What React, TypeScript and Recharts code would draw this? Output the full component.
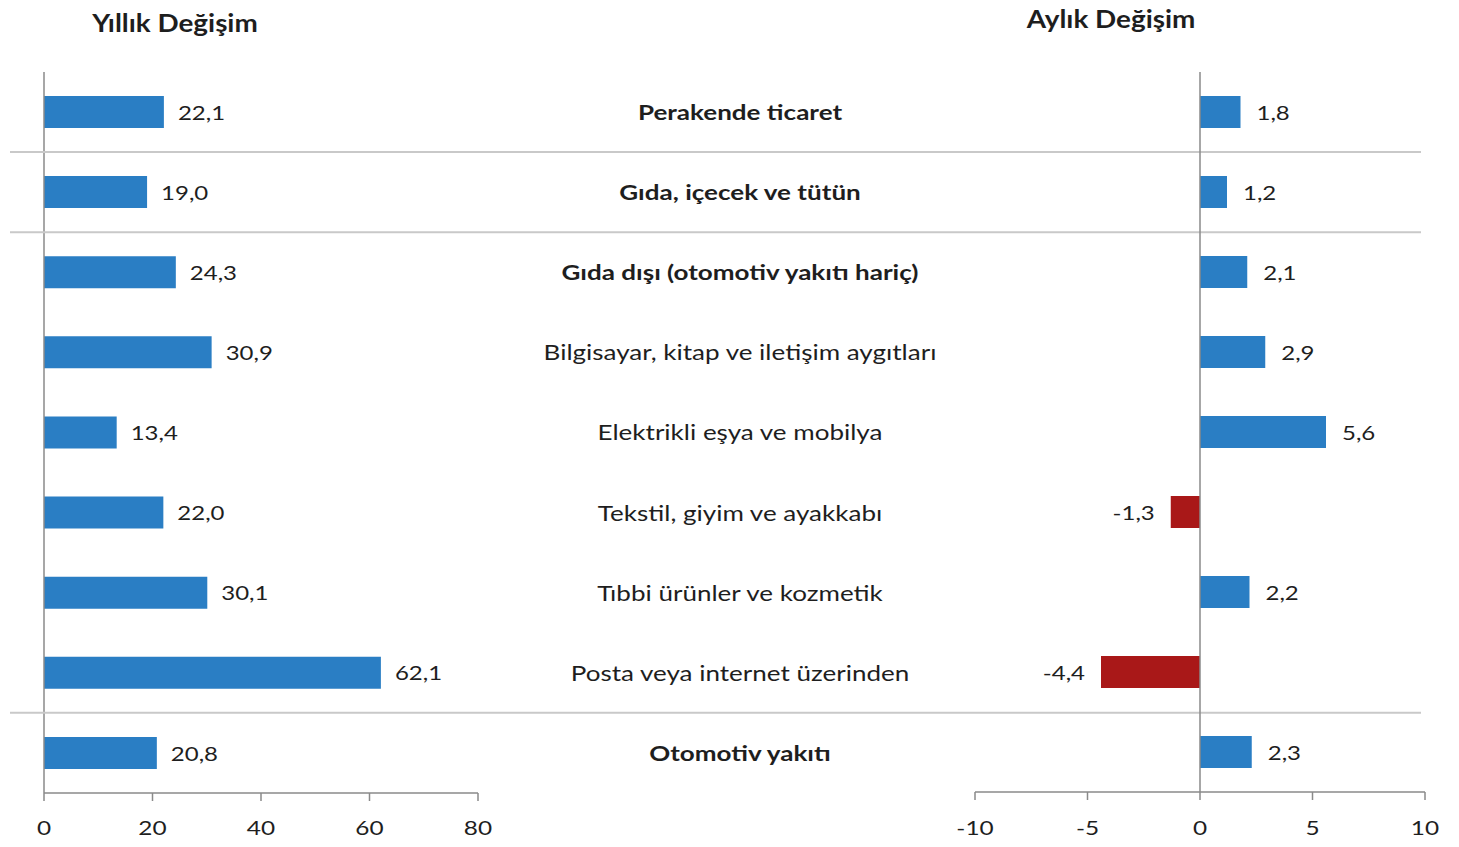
import React from 'react';
import { BarChart, Bar, XAxis, YAxis, LabelList, ReferenceLine, Cell } from 'recharts';

// rows top to bottom
const categories = [
  'Perakende ticaret',
  'Gıda, içecek ve tütün',
  'Gıda dışı (otomotiv yakıtı hariç)',
  'Bilgisayar, kitap ve iletişim aygıtları',
  'Elektrikli eşya ve mobilya',
  'Tekstil, giyim ve ayakkabı',
  'Tıbbi ürünler ve kozmetik',
  'Posta veya internet üzerinden',
  'Otomotiv yakıtı',
];
const annualChange = [22.1, 19.0, 24.3, 30.9, 13.4, 22.0, 30.1, 62.1, 20.8];
const monthlyChange = [1.8, 1.2, 2.1, 2.9, 5.6, -1.3, 2.2, -4.4, 2.3];
const boldRows = ['Perakende ticaret', 'Gıda, içecek ve tütün', 'Gıda dışı (otomotiv yakıtı hariç)', 'Otomotiv yakıtı'];
// rows that have a separator line above them
const groupStarts = ['Gıda, içecek ve tütün', 'Gıda dışı (otomotiv yakıtı hariç)', 'Otomotiv yakıtı'];
const annualTicks = [0, 20, 40, 60, 80];
const monthlyTicks = [-10, -5, 0, 5, 10];

const data = categories.map((name, i) => ({
  name,
  annual: annualChange[i],
  monthly: monthlyChange[i],
}));

const W = 1459;
const H = 847;
const PLOT_TOP = 72;
const PLOT_BOTTOM = 793;
const ROW = (PLOT_BOTTOM - PLOT_TOP) / categories.length;

const BLUE = '#2a7ec4';
const RED = '#a91818';
const AXIS = '#8a8a8a';
const TEXT = '#1e1e1e';
const FONT = "Lato, 'Open Sans', sans-serif";
// the original text is set wider than Lato, so stretch it a bit
const STRETCH = 1.2;

const fmt = (v: number) => v.toFixed(1).replace('.', ',');

const valueLabel = (offset: number) => (props: any) => {
  const { x, y, width, height, value } = props;
  const left = Math.min(x, x + width);
  const right = Math.max(x, x + width);
  const neg = value < 0;
  return (
    <g transform={`translate(${neg ? left - offset : right + offset},${y + height / 2})`}>
      <text
        transform={`scale(${STRETCH},1)`}
        textAnchor={neg ? 'end' : 'start'}
        dominantBaseline="central"
        fontSize={20}
        fontFamily={FONT}
        fill={TEXT}
      >
        {fmt(value)}
      </text>
    </g>
  );
};

const categoryLabel = (props: any) => {
  const { y, height, value } = props;
  const cy = y + height / 2;
  return (
    <g>
      {groupStarts.includes(value) && (
        <line x1={10} x2={1421} y1={cy - ROW / 2} y2={cy - ROW / 2} stroke="#c9c9c9" strokeWidth={2} />
      )}
      <g transform={`translate(740,${cy})`}>
        <text
          transform="scale(1.24,1)"
          textAnchor="middle"
          dominantBaseline="central"
          fontSize={21}
          fontFamily={FONT}
          fontWeight={boldRows.includes(value) ? 700 : 400}
          fill={TEXT}
        >
          {value}
        </text>
      </g>
    </g>
  );
};

const AxisTick = (props: any) => {
  const { x, y, payload } = props;
  return (
    <g transform={`translate(${x},${y})`}>
      <text transform="scale(1.22,1)" textAnchor="middle" dy="0.71em" fontSize={20} fontFamily={FONT} fill={TEXT}>
        {payload.value}
      </text>
    </g>
  );
};

const titleStyle: React.CSSProperties = {
  position: 'absolute',
  transform: 'translate(-50%, -50%) scaleX(1.16)',
  fontSize: 24,
  fontWeight: 700,
  color: TEXT,
  whiteSpace: 'nowrap',
};

export default function App() {
  return (
    <div style={{ position: 'absolute', left: 0, top: 0, width: W, height: H, background: '#fff', fontFamily: FONT }}>
      <div style={{ ...titleStyle, left: 175, top: 22 }}>Yıllık Değişim</div>
      <div style={{ ...titleStyle, left: 1111, top: 18 }}>Aylık Değişim</div>

      <div style={{ position: 'absolute', left: 0, top: 0 }}>
        <BarChart layout="vertical" width={W} height={H} data={data} margin={{ top: PLOT_TOP, right: W - 478, bottom: 0, left: 0 }}>
          <XAxis
            type="number"
            domain={[0, 80]}
            ticks={annualTicks}
            interval={0}
            height={H - PLOT_BOTTOM}
            axisLine={{ stroke: AXIS, strokeWidth: 1.5 }}
            tickLine={{ stroke: AXIS, strokeWidth: 1.5 }}
            tickSize={8}
            tickMargin={20}
            tick={<AxisTick />}
          />
          <YAxis type="category" dataKey="name" width={44} tick={false} tickLine={false} axisLine={{ stroke: AXIS, strokeWidth: 1.5 }} />
          <Bar dataKey="annual" fill={BLUE} barSize={32} isAnimationActive={false}>
            <LabelList dataKey="annual" content={valueLabel(14)} />
            <LabelList dataKey="name" content={categoryLabel} />
          </Bar>
        </BarChart>
      </div>

      <div style={{ position: 'absolute', left: 0, top: 0 }}>
        <BarChart layout="vertical" width={W} height={H} data={data} margin={{ top: PLOT_TOP, right: W - 1425, bottom: 0, left: 975 }}>
          <XAxis
            type="number"
            domain={[-10, 10]}
            ticks={monthlyTicks}
            interval={0}
            height={H - PLOT_BOTTOM + 1}
            axisLine={{ stroke: AXIS, strokeWidth: 1.5 }}
            tickLine={{ stroke: AXIS, strokeWidth: 1.5 }}
            tickSize={8}
            tickMargin={21}
            tick={<AxisTick />}
          />
          <YAxis type="category" dataKey="name" hide />
          <ReferenceLine x={0} stroke={AXIS} strokeWidth={1.5} />
          <Bar dataKey="monthly" barSize={32} isAnimationActive={false}>
            {data.map((d) => (
              <Cell key={d.name} fill={d.monthly < 0 ? RED : BLUE} />
            ))}
            <LabelList dataKey="monthly" content={valueLabel(16)} />
          </Bar>
        </BarChart>
      </div>
    </div>
  );
}
